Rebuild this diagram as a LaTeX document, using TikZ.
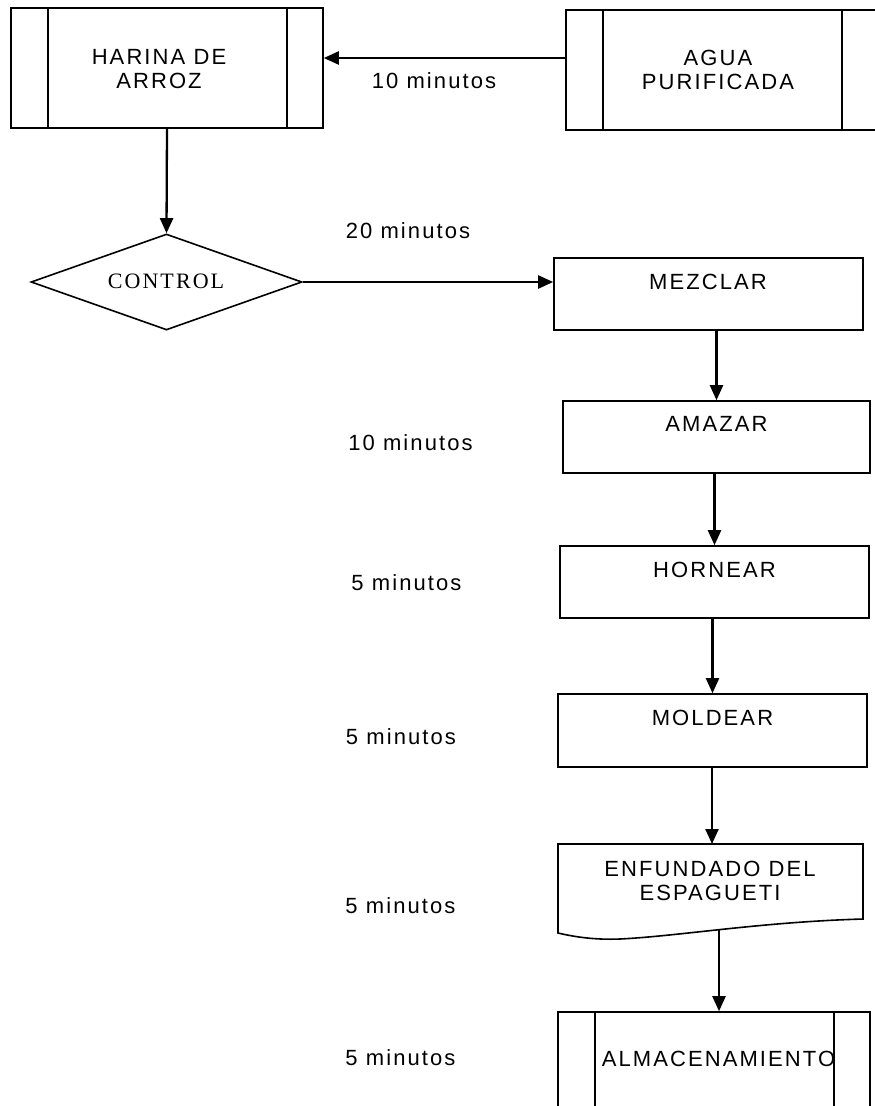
\documentclass[tikz,border=0pt]{standalone}
\usepackage{fontspec}
\usetikzlibrary{arrows.meta,shapes.geometric}
\newfontfamily\sansls[LetterSpace=9.5]{Liberation Sans}
\newfontfamily\serifls[LetterSpace=9.5]{Liberation Serif}
\begin{document}
\begin{tikzpicture}[x=1pt,y=-1pt,
  box/.style={draw=black, line width=1.6pt, inner sep=0pt, fill=white},
  txt/.style={inner sep=0pt, font=\sansls\fontsize{22}{24}\selectfont, align=center},
  stxt/.style={inner sep=0pt, font=\serifls\fontsize{22}{24}\selectfont, align=center},
  arr/.style={draw=black, line width=2.3pt, -{Triangle[length=15pt,width=13pt]}},
  ln/.style={draw=black, line width=1.6pt}]
\useasboundingbox (0,0) rectangle (875,1106);
\clip (0,0) rectangle (875,1106);
% top boxes (predefined process)
\node[box, minimum width=312, minimum height=120] (har) at (167,68) {};
\draw[ln] ([xshift=38pt]har.north west) -- ([xshift=38pt]har.south west);
\draw[ln] ([xshift=-37pt]har.north east) -- ([xshift=-37pt]har.south east);
\node[txt] (hart) at (159,69) {HARINA DE\\ARROZ};

\node[box, minimum width=313, minimum height=120] (agua) at (722.5,70) {};
\draw[ln] ([xshift=38pt]agua.north west) -- ([xshift=38pt]agua.south west);
\draw[ln] ([xshift=-38pt]agua.north east) -- ([xshift=-38pt]agua.south east);
\node[txt] (aguat) at (718,69.5) {AGUA\\PURIFICADA};

% decision
\node[box, shape=diamond, minimum width=271, minimum height=96] (ctrl) at (166.5,282) {};
\node[stxt] (ctrlt) at (166,281) {CONTROL};

% processes
\node[box, minimum width=309, minimum height=72] (mez) at (708.5,294) {};
\node[txt] (mezt) at (708,282) {MEZCLAR};
\node[box, minimum width=307, minimum height=72] (amz) at (716.5,437) {};
\node[txt] (amzt) at (716.5,424) {AMAZAR};
\node[box, minimum width=309, minimum height=72] (hor) at (714.5,582) {};
\node[txt] (hort) at (714.5,569.5) {HORNEAR};
\node[box, minimum width=309, minimum height=73] (mol) at (712.5,730.5) {};
\node[txt] (molt) at (712.5,718) {MOLDEAR};

% document shape
\coordinate (enftl) at (558,844);
\coordinate (enftr) at (863,844);
\coordinate (enfbl) at (558,933);
\coordinate (enfbr) at (863,919);
\coordinate (enftop) at (712,844);
\coordinate (enfbot) at (719,929.5);
\draw[ln, fill=white] (enfbl) -- (enftl) -- (enftr) -- (enfbr)
  .. controls (760,922) and (680,936) .. (620,939)
  .. controls (595,940) and (575,937) .. (enfbl) -- cycle;
\node[txt] (enft) at (710,881) {ENFUNDADO DEL\\ESPAGUETI};

% storage
\node[box, minimum width=312, minimum height=120] (alm) at (714,1072) {};
\draw[ln] ([xshift=38pt]alm.north west) -- ([xshift=38pt]alm.south west);
\draw[ln] ([xshift=-37pt]alm.north east) -- ([xshift=-37pt]alm.south east);
\node[txt] (almt) at (718.5,1059) {ALMACENAMIENTO};

% connectors
\draw[arr] ([yshift=12pt]agua.west) -- ([yshift=12pt]agua.west -| har.east);
\draw[arr] (har.south) -- (ctrl.north);
\draw[arr] (ctrl.east) -- (ctrl.east -| mez.west);
\draw[arr] (amz.north |- mez.south) -- (amz.north);
\draw[arr] (hor.north |- amz.south) -- (hor.north);
\draw[arr] (mol.north |- hor.south) -- (mol.north);
\draw[arr] (enftop |- mol.south) -- (enftop);
\draw[arr] (enfbot) -- (enfbot |- alm.north);

% time labels
\node[txt] (l1) at (434,81) {10 minutos};
\node[txt] (l2) at (408,231) {20 minutos};
\node[txt] (l3) at (410.5,442.5) {10 minutos};
\node[txt] (l4) at (406.5,582.5) {5 minutos};
\node[txt] (l5) at (401,736.5) {5 minutos};
\node[txt] (l6) at (400.5,906) {5 minutos};
\node[txt] (l7) at (400.5,1058) {5 minutos};
\end{tikzpicture}
\end{document}
